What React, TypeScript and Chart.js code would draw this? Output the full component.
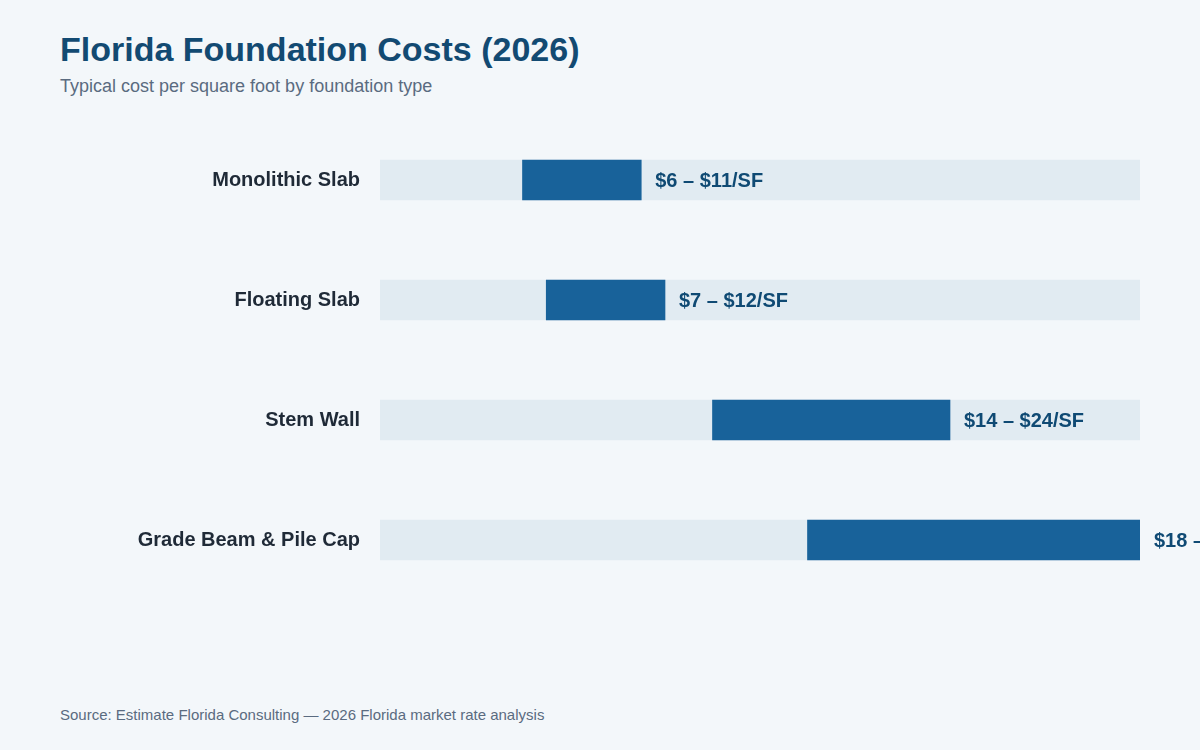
import React, { useEffect, useRef } from "react";
import { Chart, registerables } from "chart.js";

Chart.register(...registerables);

// Foundation types and their typical cost range ($ per square foot)
const foundationTypes = ["Monolithic Slab", "Floating Slab", "Stem Wall", "Grade Beam & Pile Cap"];
const lowCost = [6, 7, 14, 18];
const highCost = [11, 12, 24, 32];
const axisMin = 0;
const axisMax = 32;

const FONT = "'Liberation Sans', Arial, Helvetica, sans-serif";
const BG = "#f3f7fa";
const TRACK = "#e1ebf2";
const BAR = "#18629a";
const LABEL_BLUE = "#0f4a74";

const rangeLabels = lowCost.map((lo, i) => `$${lo} – $${highCost[i]}/SF`);

// Writes the price range just past the right end of each bar
const rangeLabelPlugin = {
  id: "rangeLabels",
  afterDatasetsDraw(chart: any) {
    const { ctx } = chart;
    const meta = chart.getDatasetMeta(0);
    ctx.save();
    ctx.font = `bold 20px ${FONT}`;
    ctx.fillStyle = LABEL_BLUE;
    ctx.textAlign = "left";
    ctx.textBaseline = "middle";
    meta.data.forEach((bar: any, i: number) => {
      const right = Math.max(bar.x, bar.base);
      ctx.fillText(rangeLabels[i], right + 14, bar.y + 1);
    });
    ctx.restore();
  },
};

export default function App() {
  const canvasRef = useRef<HTMLCanvasElement | null>(null);

  useEffect(() => {
    document.body.style.margin = "0";
    document.body.style.background = BG;
    if (!canvasRef.current) return;
    const chart = new Chart(canvasRef.current, {
      type: "bar",
      data: {
        labels: foundationTypes,
        datasets: [
          {
            label: "Cost range",
            data: lowCost.map((lo, i) => [lo, highCost[i]]),
            backgroundColor: BAR,
            borderWidth: 0,
            barThickness: 40,
            grouped: false,
            order: 0,
          },
          {
            label: "Scale",
            data: foundationTypes.map(() => [axisMin, axisMax]),
            backgroundColor: TRACK,
            borderWidth: 0,
            barThickness: 40,
            grouped: false,
            order: 1,
          },
        ],
      },
      options: {
        indexAxis: "y",
        animation: false,
        responsive: true,
        maintainAspectRatio: false,
        layout: { padding: { left: 0, right: 60, top: 0, bottom: 0 } },
        plugins: {
          legend: { display: false },
          tooltip: { enabled: false },
          title: { display: false },
        },
        scales: {
          x: {
            display: false,
            min: axisMin,
            max: axisMax,
          },
          y: {
            grid: { display: false, drawTicks: false },
            border: { display: false },
            ticks: {
              padding: 20,
              color: "#1f2a37",
              font: { family: FONT, size: 20, weight: "bold" },
            },
            afterFit(scale: any) {
              // fixed label column; categories fill the full height
              scale.width = 380;
              scale.paddingTop = 0;
              scale.paddingBottom = 0;
            },
          },
        },
      },
      plugins: [rangeLabelPlugin],
    });
    return () => chart.destroy();
  }, []);

  return (
    <div
      style={{
        position: "relative",
        width: 1200,
        height: 750,
        background: BG,
        fontFamily: FONT,
        overflow: "hidden",
      }}
    >
      <div
        style={{
          position: "absolute",
          left: 60,
          top: 27,
          fontSize: 34,
          fontWeight: "bold",
          color: "#124a72",
          lineHeight: "44px",
          whiteSpace: "nowrap",
        }}
      >
        Florida Foundation Costs (2026)
      </div>
      <div
        style={{
          position: "absolute",
          left: 60,
          top: 75,
          fontSize: 18,
          color: "#5a6b80",
          lineHeight: "22px",
          whiteSpace: "nowrap",
        }}
      >
        Typical cost per square foot by foundation type
      </div>
      <div style={{ position: "absolute", left: 0, top: 120, width: 1200, height: 480 }}>
        <canvas ref={canvasRef} />
      </div>
      <div
        style={{
          position: "absolute",
          left: 60,
          top: 706,
          fontSize: 15,
          color: "#5a6b80",
          lineHeight: "18px",
          whiteSpace: "nowrap",
        }}
      >
        Source: Estimate Florida Consulting — 2026 Florida market rate analysis
      </div>
    </div>
  );
}
